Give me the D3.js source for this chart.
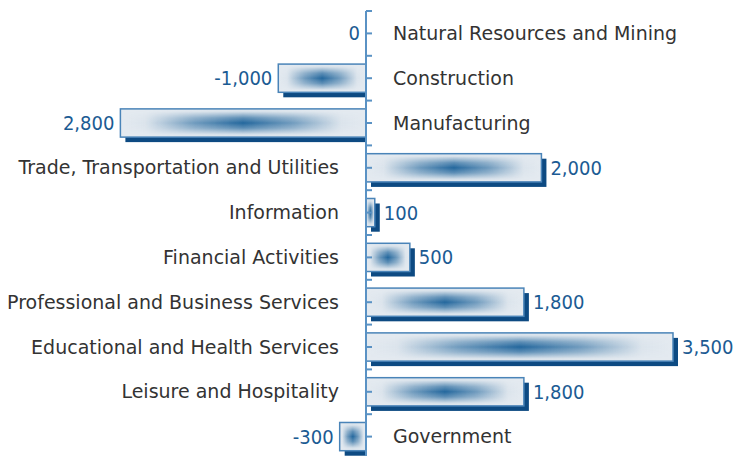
<!DOCTYPE html>
<html>
<head>
<meta charset="utf-8">
<script src="https://d3js.org/d3.v7.min.js"></script>
<style>
	body { margin: 0; background: #fff; }
	svg text { font-family: "DejaVu Sans", sans-serif; }
	svg text.val { font-family: "DejaVu Sans Condensed", "DejaVu Sans", sans-serif; }
</style>
</head>
<body>
<svg id="chart" width="736" height="456"></svg>
<script>
var categories = [
	"Natural Resources and Mining",
	"Construction",
	"Manufacturing",
	"Trade, Transportation and Utilities",
	"Information",
	"Financial Activities",
	"Professional and Business Services",
	"Educational and Health Services",
	"Leisure and Hospitality",
	"Government"
];
var values = [0, -1000, -2800, 2000, 100, 500, 1800, 3500, 1800, -300];
var valueLabels = ["0", "-1,000", "2,800", "2,000", "100", "500", "1,800", "3,500", "1,800", "-300"];

var data = categories.map(function(c, i) { return {cat: c, value: values[i], label: valueLabels[i]}; });

var svg = d3.select("#chart"),
	width = +svg.attr("width"),
	height = +svg.attr("height"),
	axisX = 366,
	sh = 5,
	x = d3.scaleLinear().domain([0, 3500]).range([axisX, 673]),
	y = d3.scaleBand().domain(categories).range([11, 459]).paddingInner(0.37).paddingOuter(0.185),
	step = y.step(),
	bw = y.bandwidth();

var defs = svg.append("defs");

// dark centre = horizontal ramp x vertical ramp
var hg = defs.append("linearGradient").attr("id", "hgrad");
[[0, 0], [0.1, 0.04], [0.3, 0.6], [0.5, 1], [0.7, 0.6], [0.9, 0.04], [1, 0]].forEach(function(s) {
	hg.append("stop").attr("offset", s[0]).attr("stop-color", "#22669c").attr("stop-opacity", s[1]);
});

var vg = defs.append("linearGradient").attr("id", "vgrad").attr("x1", 0).attr("y1", 0).attr("x2", 0).attr("y2", 1);
[[0, 0], [0.1, 0.08], [0.32, 0.7], [0.5, 1], [0.68, 0.7], [0.9, 0.08], [1, 0]].forEach(function(s) {
	vg.append("stop").attr("offset", s[0]).attr("stop-color", "#fff").attr("stop-opacity", s[1]);
});

defs.append("mask").attr("id", "vmask").attr("maskContentUnits", "objectBoundingBox")
	.append("rect").attr("x", 0).attr("y", 0).attr("width", 1).attr("height", 1).attr("fill", "url(#vgrad)");

function barX(d) { return Math.min(x(0), x(d.value)); }
function barW(d) { return Math.abs(x(d.value) - x(0)); }

var bars = svg.append("g").selectAll("g")
	.data(data.filter(function(d) { return d.value != 0; }))
	.join("g");

bars.append("rect")
	.attr("x", function(d) { return barX(d) + sh; })
	.attr("y", function(d) { return y(d.cat) + sh; })
	.attr("width", function(d) { return d.value < 0 ? barW(d) - sh : barW(d); })
	.attr("height", bw)
	.attr("fill", "#0d4a82");

bars.append("rect")
	.attr("x", barX)
	.attr("y", function(d) { return y(d.cat); })
	.attr("width", barW)
	.attr("height", bw)
	.attr("fill", "#e4eaf0");

bars.append("rect")
	.attr("x", barX)
	.attr("y", function(d) { return y(d.cat); })
	.attr("width", barW)
	.attr("height", bw)
	.attr("fill", "url(#hgrad)")
	.attr("mask", "url(#vmask)");

bars.append("rect")
	.attr("x", barX)
	.attr("y", function(d) { return y(d.cat); })
	.attr("width", barW)
	.attr("height", bw)
	.attr("fill", "none")
	.attr("stroke", "#4a84b8")
	.attr("stroke-width", 1.5);

var axis = svg.append("g").attr("stroke", "#5a92c4").attr("stroke-width", 2);
axis.append("line")
	.attr("x1", axisX).attr("x2", axisX)
	.attr("y1", y.range()[0]).attr("y2", height);

var tickYs = [];
categories.forEach(function(c) {
	var cy = y(c) + bw / 2;
	tickYs.push(cy - step / 2, cy);
});
axis.selectAll(".tick")
	.data(tickYs)
	.join("line")
	.attr("x1", axisX).attr("x2", axisX + 6)
	.attr("y1", function(d) { return d; })
	.attr("y2", function(d) { return d; });

svg.append("g").selectAll("text")
	.data(data)
	.join("text")
	.attr("x", function(d) { return d.value > 0 ? axisX - 27 : axisX + 27; })
	.attr("y", function(d) { return y(d.cat) + bw / 2; })
	.attr("dy", "0.35em")
	.attr("text-anchor", function(d) { return d.value > 0 ? "end" : "start"; })
	.attr("fill", "#333")
	.attr("font-size", 19)
	.text(function(d) { return d.cat; });

svg.append("g").selectAll("text")
	.data(data)
	.join("text")
	.attr("class", "val")
	.attr("x", function(d) { return d.value > 0 ? x(d.value) + 9 : x(d.value) - 6; })
	.attr("y", function(d) { return y(d.cat) + bw / 2; })
	.attr("dy", "0.35em")
	.attr("text-anchor", function(d) { return d.value > 0 ? "start" : "end"; })
	.attr("fill", "#1b5b93")
	.attr("font-size", 20)
	.text(function(d) { return d.label; });
</script>
</body>
</html>
